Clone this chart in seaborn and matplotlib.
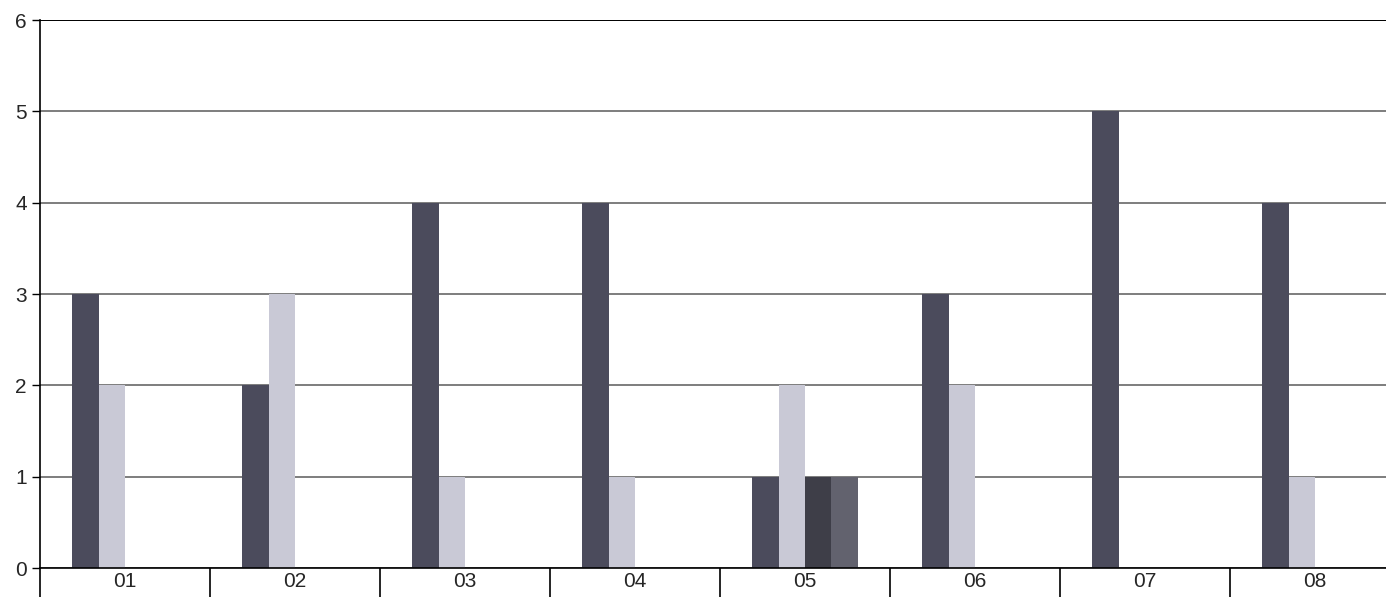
import pandas as pd
import matplotlib
matplotlib.use('Agg')
import matplotlib.pyplot as plt
import seaborn as sns

# values
categories = ['01', '02', '03', '04', '05', '06', '07', '08']
series_1 = [3, 2, 4, 4, 1, 3, 5, 4]
series_2 = [2, 3, 1, 1, 2, 2, 0, 1]
series_3 = [0, 0, 0, 0, 1, 0, 0, 0]
series_4 = [0, 0, 0, 0, 1, 0, 0, 0]
series_names = ['Series 1', 'Series 2', 'Series 3', 'Series 4']
colors = ['#4b4b5c', '#c9c9d6', '#3e3e48', '#62626e']

# long format for seaborn
df = pd.DataFrame({
    'Category': categories * 4,
    'Value': series_1 + series_2 + series_3 + series_4,
    'Series': [s for s in series_names for _ in categories],
})

sns.set_style('white')
plt.rcParams['font.family'] = ['Liberation Sans', 'DejaVu Sans']

fig = plt.figure(figsize=(13.86, 5.97), dpi=100)
ax = fig.add_axes([40 / 1386, 1 - 568 / 597, 1360 / 1386, 548 / 597])

sns.barplot(data=df, x='Category', y='Value', hue='Series', hue_order=series_names,
            palette=colors, width=0.62, saturation=1, linewidth=0, ax=ax, legend=False)

ax.set_ylim(0, 6)
ax.set_xlim(-0.5, 7.5)
ax.set_yticks(range(0, 7))
ax.yaxis.grid(True, color='#5a5a5a', linewidth=1.1)
ax.set_axisbelow(True)

# category separators below the axis
ax.set_xticks([i + 0.5 for i in range(-1, 8)], minor=True)
ax.tick_params(axis='x', which='minor', bottom=True, length=22, width=1.2,
               color='black', direction='out')
ax.tick_params(axis='x', which='major', bottom=False, length=0, labelsize=15, pad=3)
ax.tick_params(axis='y', left=True, length=6, width=1, labelsize=15,
               color='black', direction='out')

for side in ['top', 'right']:
    ax.spines[side].set_visible(False)
ax.spines['left'].set_color('black')
ax.spines['bottom'].set_color('black')
ax.spines['left'].set_linewidth(1.2)
ax.spines['bottom'].set_linewidth(1.2)
ax.axhline(6, color='black', linewidth=1.4)

ax.set_xlabel('')
ax.set_ylabel('')

fig.savefig('out.png', dpi=100)
